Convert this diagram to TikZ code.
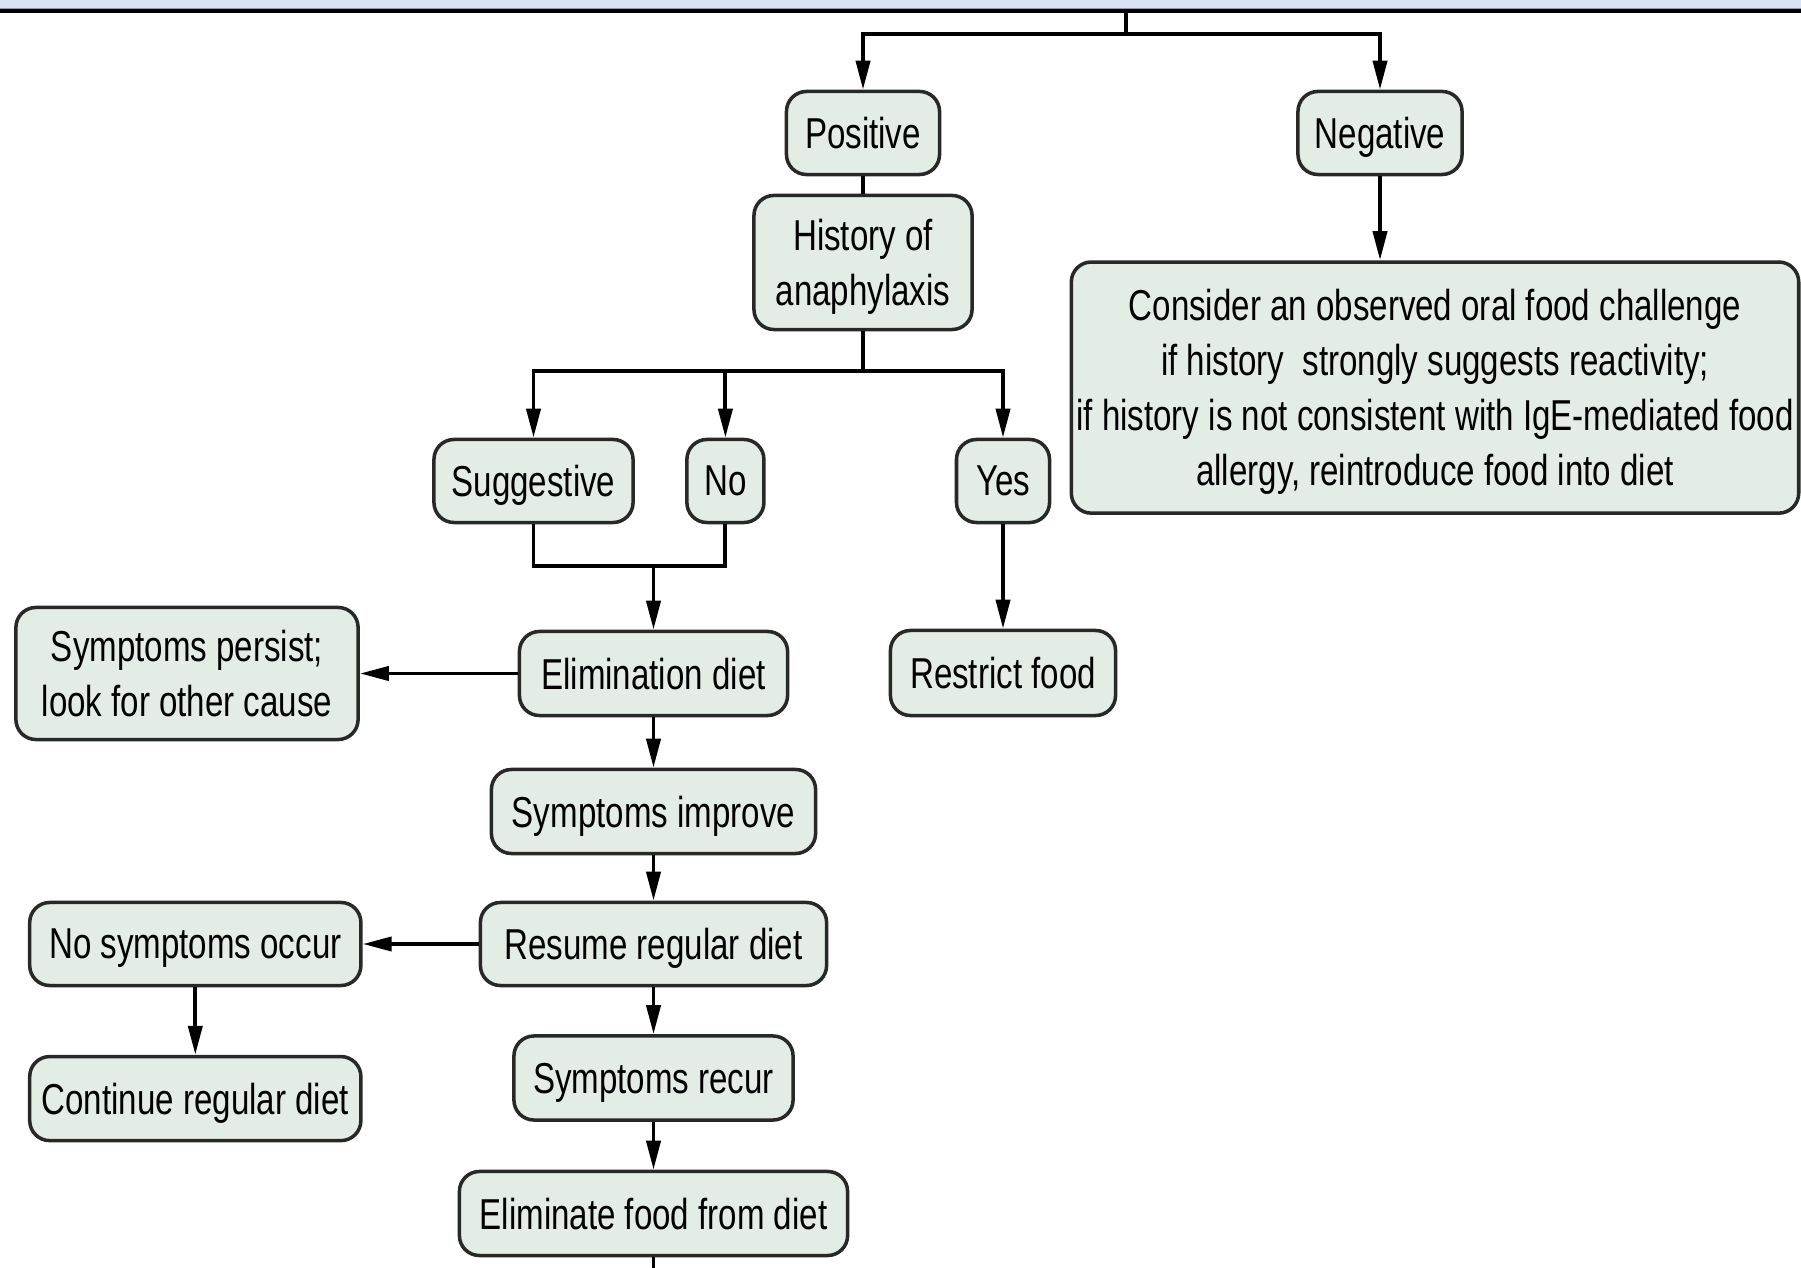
\documentclass[tikz,border=0pt]{standalone}
\usepackage{fontspec}
\setmainfont{Liberation Sans}[FakeStretch=0.765]
\usetikzlibrary{arrows.meta}
\definecolor{boxfill}{RGB}{227,236,229}
\definecolor{boxline}{RGB}{40,40,40}
\definecolor{band}{RGB}{217,226,243}
\definecolor{bandedge}{RGB}{140,155,180}

\begin{document}
\begin{tikzpicture}[x=0.01cm,y=-0.01cm,
  stepbox/.style={draw=boxline, line width=1pt, fill=boxfill,
    rounded corners=0.2cm, align=center, inner sep=0pt, text depth=0pt,
    font=\fontsize{12.3}{15.6}\selectfont},
  link/.style={line width=1.1pt, black},
  arr/.style={link, -{Triangle[length=2.9mm,width=1.4mm]}}]

% canvas
\useasboundingbox (0,0) rectangle (1801,1268);
\fill[white] (0,0) rectangle (1801,1268);

% header band and rule
\fill[band] (0,0) rectangle (1801,9);
\draw[bandedge, line width=0.3pt] (0,8.6) -- (1801,8.6);
\draw[line width=1pt] (0,11) -- (1801,11);

% nodes
\node[stepbox, minimum width=1.53cm, minimum height=0.83cm] (pos) at (863,133) {Positive};
\node[stepbox, minimum width=1.64cm, minimum height=0.83cm] (neg) at (1380,133) {Negative};
\node[stepbox, minimum width=2.18cm, minimum height=1.34cm] (hist) at (863,262.5) {History of\\anaphylaxis};
\node[stepbox, minimum width=7.27cm, minimum height=2.51cm] (cons) at (1435,387.6)
  {Consider an observed oral food challenge\\
   if history~ strongly suggests reactivity;\\
   if history is not consistent with IgE-mediated food\\
   allergy, reintroduce food into diet};
\node[stepbox, minimum width=1.99cm, minimum height=0.83cm] (sug) at (533.5,481) {Suggestive};
\node[stepbox, minimum width=0.77cm, minimum height=0.83cm] (no) at (725.4,481) {No};
\node[stepbox, minimum width=0.93cm, minimum height=0.83cm] (yes) at (1003,481) {Yes};
\node[stepbox, minimum width=2.68cm, minimum height=0.84cm] (elim) at (653.5,673.5) {Elimination diet};
\node[stepbox, minimum width=2.25cm, minimum height=0.85cm] (restr) at (1003,673) {Restrict food};
\node[stepbox, minimum width=3.42cm, minimum height=1.32cm] (persist) at (187,673.5) {Symptoms persist;\\look for other cause};
\node[stepbox, minimum width=3.24cm, minimum height=0.84cm] (impr) at (653.5,811.5) {Symptoms improve};
\node[stepbox, minimum width=3.46cm, minimum height=0.83cm] (resume) at (653.5,944) {Resume regular diet};
\node[stepbox, minimum width=3.31cm, minimum height=0.83cm] (nosym) at (195.3,944) {No symptoms occur};
\node[stepbox, minimum width=3.31cm, minimum height=0.84cm] (cont) at (195.3,1098.6) {Continue regular diet};
\node[stepbox, minimum width=2.79cm, minimum height=0.84cm] (recur) at (653.5,1078) {Symptoms recur};
\node[stepbox, minimum width=3.88cm, minimum height=0.84cm] (elfood) at (653.5,1213.5) {Eliminate food from diet};

% junction points
\coordinate (rule) at (1126,11);
\coordinate (split) at (1126,34);
\coordinate (j1) at (863,371);
\coordinate (j2) at (653.5,566);
\coordinate (bottom) at (653.5,1268);

% connectors
\draw[link] (rule) -- (split);
\draw[arr] (split) -| (pos);
\draw[arr] (split) -| (neg);
\draw[link] (pos) -- (hist);
\draw[arr] (neg) -- (neg.south |- cons.north);
\draw[link] (hist) -- (j1);
\draw[arr] (j1) -| (sug);
\draw[arr] (j1) -| (no);
\draw[arr] (j1) -| (yes);
\draw[link] (sug.south) -- (sug.south |- j2) -- (no.south |- j2) -- (no.south);
\draw[arr] (j2) -- (elim);
\draw[arr] (yes) -- (restr);
\draw[arr] (elim) -- (persist);
\draw[arr] (elim) -- (impr);
\draw[arr] (impr) -- (resume);
\draw[arr] (resume) -- (nosym);
\draw[arr] (nosym) -- (cont);
\draw[arr] (resume) -- (recur);
\draw[arr] (recur) -- (elfood);
\draw[link] (elfood) -- (bottom);
\end{tikzpicture}
\end{document}
